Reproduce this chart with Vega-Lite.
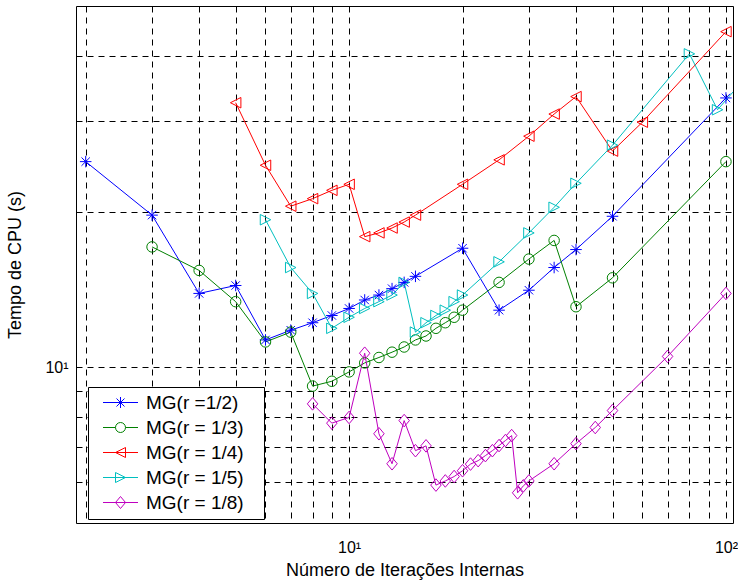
{
  "$schema": "https://vega.github.io/schema/vega-lite/v6.json",
  "width": 657,
  "height": 517,
  "autosize": "none",
  "padding": {"left": 76, "top": 6, "right": 5, "bottom": 62},
  "background": "white",
  "config": {
    "font": "Liberation Sans",
    "view": {"stroke": "black", "strokeWidth": 1},
    "axis": {
      "grid": true, "gridColor": "black", "gridDash": [6, 5], "gridWidth": 1, "gridOpacity": 1,
      "domain": false, "ticks": false,
      "labelFont": "Liberation Sans", "labelFontSize": 16, "labelColor": "black",
      "titleFont": "Liberation Sans", "titleFontSize": 18, "titleFontWeight": "normal", "titleColor": "black",
      "labelOverlap": false, "labelFlush": false
    },
    "legend": {
      "title": null, "orient": "none", "legendX": 12, "legendY": 381,
      "strokeColor": "black", "fillColor": "white", "padding": 6, "cornerRadius": 0,
      "labelFont": "Liberation Sans", "labelFontSize": 19, "labelColor": "black",
      "symbolSize": 100, "symbolStrokeWidth": 1, "symbolOffset": 17, "labelOffset": 16, "rowPadding": 5
    }
  },
  "data": {
    "values": [
      {"serie": "MG(r =1/2)", "x": 2, "y": 25.0},
      {"serie": "MG(r =1/2)", "x": 3, "y": 19.7},
      {"serie": "MG(r =1/2)", "x": 4, "y": 13.9},
      {"serie": "MG(r =1/2)", "x": 5, "y": 14.4},
      {"serie": "MG(r =1/2)", "x": 6, "y": 11.3},
      {"serie": "MG(r =1/2)", "x": 7, "y": 11.8},
      {"serie": "MG(r =1/2)", "x": 8, "y": 12.2},
      {"serie": "MG(r =1/2)", "x": 9, "y": 12.6},
      {"serie": "MG(r =1/2)", "x": 10, "y": 13.0},
      {"serie": "MG(r =1/2)", "x": 11, "y": 13.5},
      {"serie": "MG(r =1/2)", "x": 12, "y": 13.8},
      {"serie": "MG(r =1/2)", "x": 13, "y": 14.2},
      {"serie": "MG(r =1/2)", "x": 14, "y": 14.6},
      {"serie": "MG(r =1/2)", "x": 15, "y": 15.0},
      {"serie": "MG(r =1/2)", "x": 20, "y": 17.0},
      {"serie": "MG(r =1/2)", "x": 25, "y": 12.9},
      {"serie": "MG(r =1/2)", "x": 30, "y": 14.1},
      {"serie": "MG(r =1/2)", "x": 35, "y": 15.6},
      {"serie": "MG(r =1/2)", "x": 40, "y": 16.9},
      {"serie": "MG(r =1/2)", "x": 50, "y": 19.6},
      {"serie": "MG(r =1/2)", "x": 100, "y": 33.2},

      {"serie": "MG(r = 1/3)", "x": 3, "y": 17.1},
      {"serie": "MG(r = 1/3)", "x": 4, "y": 15.4},
      {"serie": "MG(r = 1/3)", "x": 5, "y": 13.4},
      {"serie": "MG(r = 1/3)", "x": 6, "y": 11.2},
      {"serie": "MG(r = 1/3)", "x": 7, "y": 11.7},
      {"serie": "MG(r = 1/3)", "x": 8, "y": 9.2},
      {"serie": "MG(r = 1/3)", "x": 9, "y": 9.4},
      {"serie": "MG(r = 1/3)", "x": 10, "y": 9.8},
      {"serie": "MG(r = 1/3)", "x": 11, "y": 10.2},
      {"serie": "MG(r = 1/3)", "x": 12, "y": 10.45},
      {"serie": "MG(r = 1/3)", "x": 13, "y": 10.7},
      {"serie": "MG(r = 1/3)", "x": 14, "y": 10.95},
      {"serie": "MG(r = 1/3)", "x": 15, "y": 11.3},
      {"serie": "MG(r = 1/3)", "x": 16, "y": 11.5},
      {"serie": "MG(r = 1/3)", "x": 17, "y": 11.9},
      {"serie": "MG(r = 1/3)", "x": 18, "y": 12.2},
      {"serie": "MG(r = 1/3)", "x": 19, "y": 12.5},
      {"serie": "MG(r = 1/3)", "x": 20, "y": 12.9},
      {"serie": "MG(r = 1/3)", "x": 25, "y": 14.6},
      {"serie": "MG(r = 1/3)", "x": 30, "y": 16.2},
      {"serie": "MG(r = 1/3)", "x": 35, "y": 17.6},
      {"serie": "MG(r = 1/3)", "x": 40, "y": 13.1},
      {"serie": "MG(r = 1/3)", "x": 50, "y": 14.9},
      {"serie": "MG(r = 1/3)", "x": 100, "y": 25.0},

      {"serie": "MG(r = 1/4)", "x": 5, "y": 32.5},
      {"serie": "MG(r = 1/4)", "x": 6, "y": 24.6},
      {"serie": "MG(r = 1/4)", "x": 7, "y": 20.5},
      {"serie": "MG(r = 1/4)", "x": 8, "y": 21.2},
      {"serie": "MG(r = 1/4)", "x": 9, "y": 22.0},
      {"serie": "MG(r = 1/4)", "x": 10, "y": 22.6},
      {"serie": "MG(r = 1/4)", "x": 11, "y": 17.9},
      {"serie": "MG(r = 1/4)", "x": 12, "y": 18.2},
      {"serie": "MG(r = 1/4)", "x": 13, "y": 18.6},
      {"serie": "MG(r = 1/4)", "x": 14, "y": 19.1},
      {"serie": "MG(r = 1/4)", "x": 15, "y": 19.7},
      {"serie": "MG(r = 1/4)", "x": 20, "y": 22.6},
      {"serie": "MG(r = 1/4)", "x": 25, "y": 25.2},
      {"serie": "MG(r = 1/4)", "x": 30, "y": 28.0},
      {"serie": "MG(r = 1/4)", "x": 35, "y": 30.9},
      {"serie": "MG(r = 1/4)", "x": 40, "y": 33.4},
      {"serie": "MG(r = 1/4)", "x": 50, "y": 26.2},
      {"serie": "MG(r = 1/4)", "x": 60, "y": 29.8},
      {"serie": "MG(r = 1/4)", "x": 100, "y": 44.6},

      {"serie": "MG(r = 1/5)", "x": 6, "y": 19.3},
      {"serie": "MG(r = 1/5)", "x": 7, "y": 15.6},
      {"serie": "MG(r = 1/5)", "x": 8, "y": 13.9},
      {"serie": "MG(r = 1/5)", "x": 9, "y": 11.9},
      {"serie": "MG(r = 1/5)", "x": 10, "y": 12.5},
      {"serie": "MG(r = 1/5)", "x": 11, "y": 13.0},
      {"serie": "MG(r = 1/5)", "x": 12, "y": 13.4},
      {"serie": "MG(r = 1/5)", "x": 13, "y": 13.8},
      {"serie": "MG(r = 1/5)", "x": 14, "y": 14.6},
      {"serie": "MG(r = 1/5)", "x": 15, "y": 11.7},
      {"serie": "MG(r = 1/5)", "x": 16, "y": 12.2},
      {"serie": "MG(r = 1/5)", "x": 17, "y": 12.6},
      {"serie": "MG(r = 1/5)", "x": 18, "y": 12.9},
      {"serie": "MG(r = 1/5)", "x": 19, "y": 13.4},
      {"serie": "MG(r = 1/5)", "x": 20, "y": 13.8},
      {"serie": "MG(r = 1/5)", "x": 25, "y": 16.0},
      {"serie": "MG(r = 1/5)", "x": 30, "y": 18.2},
      {"serie": "MG(r = 1/5)", "x": 35, "y": 20.4},
      {"serie": "MG(r = 1/5)", "x": 40, "y": 22.7},
      {"serie": "MG(r = 1/5)", "x": 50, "y": 26.9},
      {"serie": "MG(r = 1/5)", "x": 80, "y": 40.4},
      {"serie": "MG(r = 1/5)", "x": 95, "y": 31.5},
      {"serie": "MG(r = 1/5)", "x": 110, "y": 35.6},

      {"serie": "MG(r = 1/8)", "x": 8, "y": 8.5},
      {"serie": "MG(r = 1/8)", "x": 9, "y": 7.8},
      {"serie": "MG(r = 1/8)", "x": 10, "y": 8.0},
      {"serie": "MG(r = 1/8)", "x": 11, "y": 10.65},
      {"serie": "MG(r = 1/8)", "x": 12, "y": 7.44},
      {"serie": "MG(r = 1/8)", "x": 13, "y": 6.51},
      {"serie": "MG(r = 1/8)", "x": 14, "y": 7.89},
      {"serie": "MG(r = 1/8)", "x": 15, "y": 6.9},
      {"serie": "MG(r = 1/8)", "x": 16, "y": 7.05},
      {"serie": "MG(r = 1/8)", "x": 17, "y": 5.92},
      {"serie": "MG(r = 1/8)", "x": 18, "y": 6.03},
      {"serie": "MG(r = 1/8)", "x": 19, "y": 6.15},
      {"serie": "MG(r = 1/8)", "x": 20, "y": 6.31},
      {"serie": "MG(r = 1/8)", "x": 21, "y": 6.5},
      {"serie": "MG(r = 1/8)", "x": 22, "y": 6.6},
      {"serie": "MG(r = 1/8)", "x": 23, "y": 6.75},
      {"serie": "MG(r = 1/8)", "x": 24, "y": 6.9},
      {"serie": "MG(r = 1/8)", "x": 25, "y": 7.06},
      {"serie": "MG(r = 1/8)", "x": 26, "y": 7.22},
      {"serie": "MG(r = 1/8)", "x": 27, "y": 7.38},
      {"serie": "MG(r = 1/8)", "x": 28, "y": 5.72},
      {"serie": "MG(r = 1/8)", "x": 29, "y": 5.9},
      {"serie": "MG(r = 1/8)", "x": 30, "y": 6.03},
      {"serie": "MG(r = 1/8)", "x": 35, "y": 6.51},
      {"serie": "MG(r = 1/8)", "x": 40, "y": 7.12},
      {"serie": "MG(r = 1/8)", "x": 45, "y": 7.65},
      {"serie": "MG(r = 1/8)", "x": 50, "y": 8.25},
      {"serie": "MG(r = 1/8)", "x": 70, "y": 10.5},
      {"serie": "MG(r = 1/8)", "x": 100, "y": 13.9}
    ]
  },
  "encoding": {
    "x": {
      "field": "x", "type": "quantitative",
      "scale": {"type": "log", "domain": [1.885, 104.4], "nice": false},
      "axis": {
        "values": [2, 3, 4, 5, 6, 7, 8, 9, 10, 20, 30, 40, 50, 60, 70, 80, 90, 100],
        "labelExpr": "datum.value == 10 ? '10¹' : (datum.value == 100 ? '10²' : '')",
        "labelPadding": 16,
        "title": "Número de Iterações Internas",
        "titleBaseline": "alphabetic",
        "titleY": 52
      }
    },
    "y": {
      "field": "y", "type": "quantitative",
      "scale": {"type": "log", "domain": [5, 50], "nice": false},
      "axis": {
        "values": [6, 7, 8, 9, 10, 20, 30, 40],
        "labelExpr": "datum.value == 10 ? '10¹' : ''",
        "labelPadding": 8,
        "title": "Tempo de CPU (s)",
        "titleX": -61,
        "titleBaseline": "middle"
      }
    }
  },
  "resolve": {"scale": {"shape": "independent", "color": "independent"}},
  "layer": [
    {
      "mark": {"type": "line", "strokeWidth": 1, "clip": true},
      "encoding": {
        "color": {
          "field": "serie", "type": "nominal",
          "scale": {
            "domain": ["MG(r =1/2)", "MG(r = 1/3)", "MG(r = 1/4)", "MG(r = 1/5)", "MG(r = 1/8)"],
            "range": ["#0000ff", "#008000", "#ff0000", "#00bfbf", "#bf00bf"]
          },
          "legend": null
        }
      }
    },
    {
      "mark": {"type": "point", "filled": false, "strokeWidth": 1, "size": 110, "opacity": 1, "clip": true},
      "encoding": {
        "color": {
          "field": "serie", "type": "nominal",
          "scale": {
            "domain": ["MG(r =1/2)", "MG(r = 1/3)", "MG(r = 1/4)", "MG(r = 1/5)", "MG(r = 1/8)"],
            "range": ["#0000ff", "#008000", "#ff0000", "#00bfbf", "#bf00bf"]
          },
          "legend": null
        },
        "shape": {
          "field": "serie", "type": "nominal",
          "scale": {
            "domain": ["MG(r =1/2)", "MG(r = 1/3)", "MG(r = 1/4)", "MG(r = 1/5)", "MG(r = 1/8)"],
            "range": [
              "M-1.1,0L1.1,0M0,-1.1L0,1.1M-0.8,-0.8L0.8,0.8M-0.8,0.8L0.8,-0.8",
              "circle",
              "M-1,0L1,-1L1,1Z",
              "M1,0L-1,-1L-1,1Z",
              "M0,-1.2L1,0L0,1.2L-1,0Z"
            ]
          },
          "legend": null
        }
      }
    },
    {
      "mark": {"type": "point", "filled": false, "strokeWidth": 1, "size": 100, "opacity": 0, "clip": true},
      "encoding": {
        "color": {
          "field": "serie", "type": "nominal",
          "scale": {
            "domain": ["MG(r =1/2)", "MG(r = 1/3)", "MG(r = 1/4)", "MG(r = 1/5)", "MG(r = 1/8)"],
            "range": ["#0000ff", "#008000", "#ff0000", "#00bfbf", "#bf00bf"]
          },
          "legend": {"labelExpr": "datum.label + '\u2800'"}
        },
        "shape": {
          "field": "serie", "type": "nominal",
          "scale": {
            "domain": ["MG(r =1/2)", "MG(r = 1/3)", "MG(r = 1/4)", "MG(r = 1/5)", "MG(r = 1/8)"],
            "range": [
              "M-3.5,0L3.5,0M-1.1,0L1.1,0M0,-1.1L0,1.1M-0.8,-0.8L0.8,0.8M-0.8,0.8L0.8,-0.8",
              "M-3.5,0L-1,0M1,0L3.5,0M-1,0A1,1 0 1 0 1,0A1,1 0 1 0 -1,0",
              "M-3.5,0L3.5,0M-1,0L1,-1L1,1Z",
              "M-3.5,0L3.5,0M1,0L-1,-1L-1,1Z",
              "M-3.5,0L3.5,0M0,-1.2L1,0L0,1.2L-1,0Z"
            ]
          },
          "legend": {"labelExpr": "datum.label + '\u2800'"}
        }
      }
    }
  ]
}
